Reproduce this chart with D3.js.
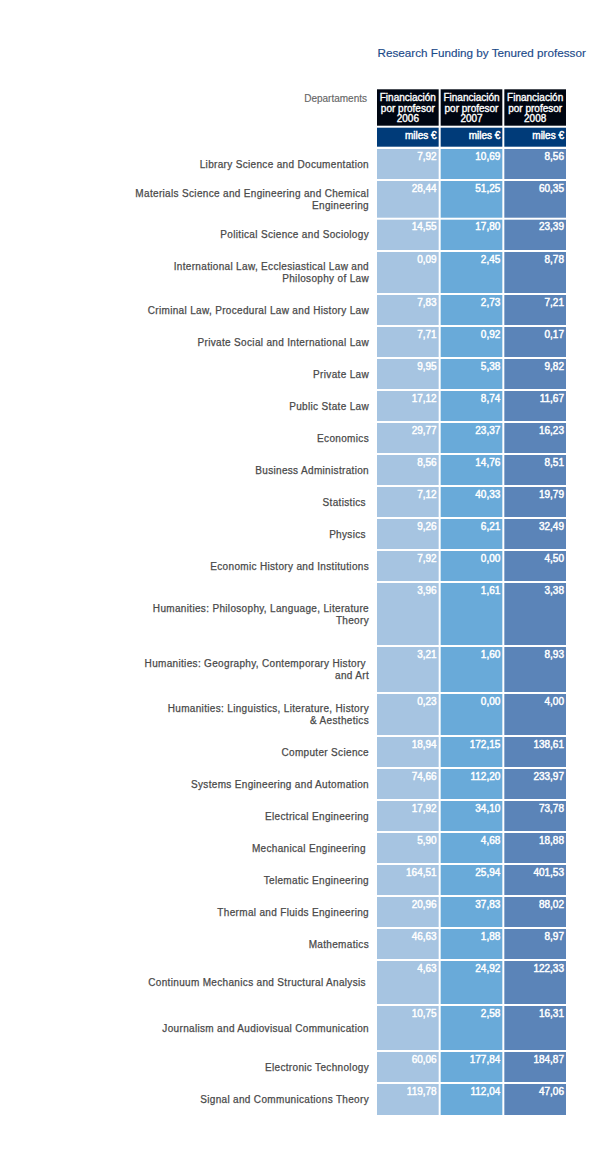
<!DOCTYPE html>
<html>
<head>
<meta charset="utf-8">
<script src="https://cdn.jsdelivr.net/npm/d3@7"></script>
<style>
  html, body { margin: 0; padding: 0; background: #fff; }
  svg { display: block; font-family: "Liberation Sans", Arial, Helvetica, sans-serif; }
  .lbl { white-space: pre; }
</style>
</head>
<body>
<svg id="chart" width="600" height="1150"></svg>
<script>
// ---------- DATA ----------
const title = "Research Funding by Tenured professor";
const rowHeader = "Departaments";
const years = ["2006", "2007", "2008"];
const headerLines = ["Financiación", "por profesor"];
const unitLabel = "miles €";

const departments = [
  "Library Science and Documentation",
  "Materials Science and Engineering and Chemical\nEngineering",
  "Political Science and Sociology",
  "International Law, Ecclesiastical Law and\nPhilosophy of Law",
  "Criminal Law, Procedural Law and History Law",
  "Private Social and International Law",
  "Private Law",
  "Public State Law",
  "Economics",
  "Business Administration",
  "Statistics ",
  "Physics ",
  "Economic History and Institutions",
  "Humanities: Philosophy, Language, Literature\nTheory",
  "Humanities: Geography, Contemporary History \nand Art",
  "Humanities: Linguistics, Literature, History\n& Aesthetics",
  "Computer Science",
  "Systems Engineering and Automation",
  "Electrical Engineering",
  "Mechanical Engineering ",
  "Telematic Engineering",
  "Thermal and Fluids Engineering",
  "Mathematics",
  "Continuum Mechanics and Structural Analysis ",
  "Journalism and Audiovisual Communication",
  "Electronic Technology",
  "Signal and Communications Theory"
];

const funding2006 = ["7,92","28,44","14,55","0,09","7,83","7,71","9,95","17,12","29,77","8,56","7,12","9,26","7,92","3,96","3,21","0,23","18,94","74,66","17,92","5,90","164,51","20,96","46,63","4,63","10,75","60,06","119,78"];
const funding2007 = ["10,69","51,25","17,80","2,45","2,73","0,92","5,38","8,74","23,37","14,76","40,33","6,21","0,00","1,61","1,60","0,00","172,15","112,20","34,10","4,68","25,94","37,83","1,88","24,92","2,58","177,84","112,04"];
const funding2008 = ["8,56","60,35","23,39","8,78","7,21","0,17","9,82","11,67","16,23","8,51","19,79","32,49","4,50","3,38","8,93","4,00","138,61","233,97","73,78","18,88","401,53","88,02","8,97","122,33","16,31","184,87","47,06"];

// ---------- LAYOUT (sizes, not data) ----------
const rowPitch = [32,38.7,32.3,43,32,32,32,32,32,32,32,32,32,64,47,43,32,32,32,32,32,32,32,45,46,32,33];
const colFill = { "2006": "#a6c4e1", "2007": "#69aad9", "2008": "#5b84b8" };

const series = [funding2006, funding2007, funding2008];
const rows = departments.map((d, i) => ({
  name: d,
  values: years.map((y, j) => ({ year: y, value: series[j][i] }))
}));

const svg = d3.select("#chart");
svg.append("rect").attr("width", 600).attr("height", 1150).attr("fill", "#fff");

const x = d3.scaleBand().domain(years).range([377, 566]).paddingInner(0.0314);

const offsets = [0, ...d3.cumsum(rowPitch)];
const y = d3.scaleLinear().domain([0, offsets[offsets.length - 1]]).range([149, 1117]);
const gap = 2;

// Title
svg.append("text")
  .attr("x", 377.5).attr("y", 57.3)
  .attr("font-size", 11.7).attr("fill", "#1b4a8a")
  .attr("stroke", "#1b4a8a").attr("stroke-width", 0.15)
  .text(title);

// Row header
svg.append("text")
  .attr("x", 367).attr("y", 101.8)
  .attr("text-anchor", "end")
  .attr("font-size", 10).attr("fill", "#666")
  .attr("stroke", "#666").attr("stroke-width", 0.15)
  .text(rowHeader);

// Header cells
const hdr = svg.append("g");
years.forEach(yr => {
  const cx = x(yr);
  hdr.append("rect").attr("x", cx).attr("y", 89.3).attr("width", x.bandwidth()).attr("height", 36.4).attr("fill", "#000612");
  const t = hdr.append("text")
    .attr("text-anchor", "middle").attr("font-size", 10).attr("fill", "#fff")
    .attr("stroke", "#fff").attr("stroke-width", 0.35);
  [...headerLines, yr].forEach((ln, k) => {
    t.append("tspan").attr("x", cx + x.bandwidth() / 2).attr("y", 101 + k * 10.6).text(ln);
  });
  hdr.append("rect").attr("x", cx).attr("y", 127.7).attr("width", x.bandwidth()).attr("height", 19).attr("fill", "#003b79");
  hdr.append("text")
    .attr("x", cx + x.bandwidth() - 2).attr("y", 139.4)
    .attr("text-anchor", "end").attr("font-size", 10).attr("fill", "#fff")
    .attr("stroke", "#fff").attr("stroke-width", 0.45)
    .text(unitLabel);
});

// Rows
const rowG = svg.selectAll("g.row").data(rows).join("g").attr("class", "row");

rowG.each(function(r, i) {
  const g = d3.select(this);
  const top = y(offsets[i]);
  const h = y(offsets[i + 1]) - top - gap;

  g.selectAll("rect").data(r.values).join("rect")
    .attr("x", d => x(d.year))
    .attr("y", top)
    .attr("width", x.bandwidth())
    .attr("height", h)
    .attr("fill", d => colFill[d.year]);

  g.selectAll("text.val").data(r.values).join("text")
    .attr("class", "val")
    .attr("x", d => x(d.year) + x.bandwidth() - 2)
    .attr("y", top + 10.5)
    .attr("text-anchor", "end")
    .attr("font-size", 10)
    .attr("fill", "#fff")
    .attr("stroke", "#fff").attr("stroke-width", 0.45)
    .text(d => d.value);

  const lines = r.name.split("\n");
  const lh = 12;
  const cy = top + h / 2;
  const firstBase = cy - (lines.length - 1) * lh / 2 + 3.6;
  const t = g.append("text")
    .attr("class", "lbl")
    .attr("text-anchor", "end")
    .attr("font-size", 10)
    .attr("letter-spacing", 0.33)
    .attr("fill", "#4a4a4a")
    .attr("stroke", "#4a4a4a").attr("stroke-width", 0.25);
  lines.forEach((ln, k) => {
    t.append("tspan").attr("x", 369).attr("y", firstBase + k * lh).text(ln);
  });
});
</script>
</body>
</html>
